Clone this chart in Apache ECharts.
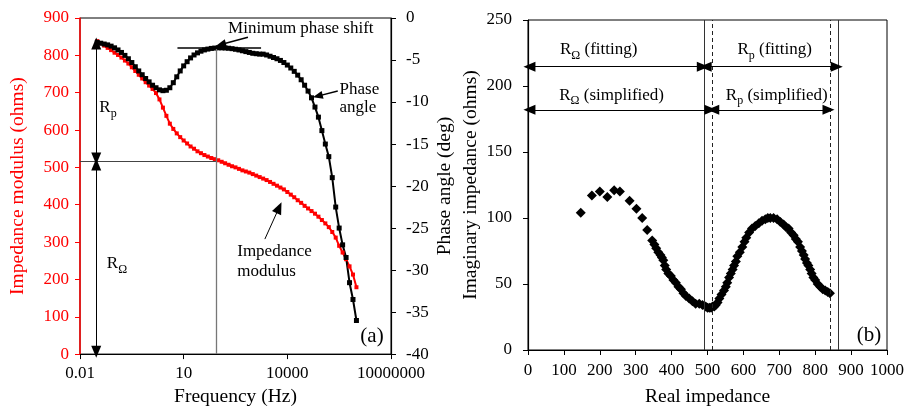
<!DOCTYPE html>
<html><head><meta charset="utf-8">
<script src="https://cdn.jsdelivr.net/npm/echarts@6/dist/echarts.min.js"></script>
<style>html,body{margin:0;padding:0;background:#fff}#c{width:907px;height:412px}</style>
</head><body><div id="c"></div>
<script>
// ---- (a) Bode data: log10(frequency / Hz), impedance modulus (ohms), phase angle (deg)
const freqExp = [-1.5,-1.4,-1.3,-1.2,-1.1,-1.0,-0.9,-0.8,-0.7,-0.6,
  -0.5,-0.4,-0.3,-0.2,-0.1,0.0,0.1,0.2,0.3,0.4,
  0.5,0.6,0.7,0.8,0.9,1.0,1.1,1.2,1.3,1.4,
  1.5,1.6,1.7,1.8,1.9,2.0,2.1,2.2,2.3,2.4,
  2.5,2.6,2.7,2.8,2.9,3.0,3.1,3.2,3.3,3.4,
  3.5,3.6,3.7,3.8,3.9,4.0,4.1,4.2,4.3,4.4,
  4.5,4.6,4.7,4.8,4.9,5.0,5.1,5.2,5.3,5.4,
  5.5,5.6,5.7,5.8,5.9,6.0];
const modulus = [838,832,826,820,814,807,801,794,786,778,
  768,758,748,738,728,719,710,699,682,660,
  638,617,603,591,581,572,564,556,550,543,
  538,533,529,525,522,519,515,511,507,503,
  500,496,492,489,486,482,478,474,470,466,
  461,456,451,446,441,434,427,420,412,405,
  397,390,383,376,368,359,350,340,327,312,
  290,272,254,235,213,179];
const phaseDeg = [-2.9,-3.0,-3.1,-3.2,-3.35,-3.55,-3.8,-4.1,-4.45,-4.85,
  -5.3,-5.8,-6.3,-6.75,-7.2,-7.6,-8.0,-8.3,-8.55,-8.65,
  -8.6,-8.3,-7.7,-7.0,-6.3,-5.7,-5.2,-4.75,-4.4,-4.15,
  -3.95,-3.8,-3.7,-3.62,-3.58,-3.55,-3.55,-3.57,-3.6,-3.65,
  -3.72,-3.8,-3.9,-4.0,-4.1,-4.2,-4.25,-4.3,-4.3,-4.4,
  -4.55,-4.7,-4.85,-5.05,-5.3,-5.6,-5.95,-6.35,-6.8,-7.35,
  -8.0,-8.7,-9.5,-10.6,-11.8,-13.4,-15.0,-16.5,-19.0,-22.5,
  -25.0,-27.0,-28.5,-31.5,-33.5,-36.0];
const freqTickLabels = {'-2':'0.01','1':'10','4':'10000','7':'10000000'};

// ---- (b) Nyquist data
const realZ = [147,178,200,221,240,256,283,302,318,332,346,352,357,363,369,373,377,381,385,391,
  398,405,412,419,426,433,440,449,458,467,477,486,495,500,505,510,514,519,
  523,528,533,539,546,551,555,560,565,570,574,579,583,590,597,603,608,616,624,633,
  643,652,661,668,675,684,694,703,712,719,726,733,740,746,752,758,763,768,772,777,
  781,786,790,795,800,807,814,821,828,835,841];
const imagZ = [104,117,120,116,121,120,113,107,100,91,83,80,77,74,72,70,68,64,61,58,
  56,53,51,48,46,43,41,39,37,35,35,34,33,32,32,32,33,33,
  34,36,39,42,45,48,51,55,58,61,64,67,71,74,78,82,85,89,92,94,
  96,98,99,100,100,100,99,97,95,93,92,89,87,84,82,78,75,72,69,66,
  64,61,58,55,53,50,48,46,45,44,43];

// ---- annotation values (data units)
const rOhmicFit = 491, rTotalFit = 864, rOhmicSimp = 512, rTotalSimp = 841;
const splitMod = 516, minPhaseExp = 1.95, minPhase = -3.55;

const F = '"Liberation Serif","Times New Roman",serif';
const RED = '#ff0000';
const chart = echarts.init(document.getElementById('c'));

const tri = [10, 12];
function arrow2(a, b, sz) { return [{coord: a, symbol: 'triangle', symbolSize: sz || tri}, {coord: b, symbol: 'triangle', symbolSize: sz || tri}]; }
function arrow1(a, b, sz) { return [{coord: a, symbol: 'none'}, {coord: b, symbol: 'triangle', symbolSize: sz || tri}]; }
function plain(a, b, style) { return [{coord: a, symbol: 'none', lineStyle: style}, {coord: b, symbol: 'none'}]; }

const axisTxt = {fontFamily: F, fontSize: 17, color: '#000'};
const nameTxt = {fontFamily: F, fontSize: 19.5, color: '#000'};
const blackLine = {show: true, onZero: false, lineStyle: {color: '#000', width: 1.2}};
const blackTick = {show: true, length: 5, lineStyle: {color: '#000'}};

const option = {
  animation: false,
  grid: [
    {left: 80, top: 18, width: 311, height: 345, show: true, borderColor: '#000', borderWidth: 1},
    {left: 528, top: 20, width: 361, height: 337, show: true, borderColor: '#000', borderWidth: 1}
  ],
  xAxis: [
    {gridIndex: 0, type: 'value', min: -2, max: 7, interval: 3,
     axisLine: blackLine, axisTick: blackTick, splitLine: {show: false},
     axisLabel: Object.assign({margin: 11, formatter: v => freqTickLabels[String(v)] || ''}, axisTxt),
     name: 'Frequency (Hz)', nameLocation: 'middle', nameGap: 28, nameTextStyle: nameTxt},
    {gridIndex: 1, type: 'value', min: 0, max: 1000, interval: 100,
     axisLine: blackLine, axisTick: blackTick, splitLine: {show: false},
     axisLabel: Object.assign({margin: 12, formatter: v => String(v)}, axisTxt),
     name: 'Real impedance', nameLocation: 'middle', nameGap: 37, nameTextStyle: nameTxt}
  ],
  yAxis: [
    {gridIndex: 0, type: 'value', min: 0, max: 900, interval: 100,
     axisLine: {show: true, onZero: false, lineStyle: {color: RED, width: 1.5}},
     axisTick: {show: true, length: 5, lineStyle: {color: RED}},
     splitLine: {show: false},
     axisLabel: {fontFamily: F, fontSize: 17, color: RED, margin: 11},
     name: 'Impedance modulus (ohms)', nameLocation: 'middle', nameGap: 52, nameRotate: 90,
     nameTextStyle: {fontFamily: F, fontSize: 19.5, color: RED}},
    {gridIndex: 0, type: 'value', position: 'right', min: -40, max: 0, interval: 5,
     axisLine: blackLine, axisTick: blackTick, splitLine: {show: false},
     axisLabel: Object.assign({margin: 15}, axisTxt),
     name: 'Phase angle (deg)', nameLocation: 'middle', nameGap: 44, nameRotate: 90, nameTextStyle: nameTxt},
    {gridIndex: 1, type: 'value', min: 0, max: 250, interval: 50,
     axisLine: blackLine, axisTick: blackTick, splitLine: {show: false},
     axisLabel: Object.assign({margin: 16}, axisTxt),
     name: 'Imaginary impedance (ohms)', nameLocation: 'middle', nameGap: 47, nameRotate: 90, nameTextStyle: nameTxt}
  ],
  series: [
    {type: 'line', xAxisIndex: 0, yAxisIndex: 0, data: freqExp.map((e, i) => [e, modulus[i]]),
     symbol: 'rect', symbolSize: 4, showSymbol: true, showAllSymbol: true,
     itemStyle: {color: RED}, lineStyle: {color: RED, width: 2}, silent: true,
     markLine: {silent: true, symbol: ['none', 'none'], label: {show: false},
       lineStyle: {color: '#000', width: 1, type: 'solid'},
       data: [
         plain([-2, splitMod], [minPhaseExp, splitMod], {color: '#444', width: 1}),
         plain([minPhaseExp, 0], [minPhaseExp, 817], {color: '#777', width: 1.3}),
         arrow2([-1.53, 832], [-1.53, 524]),
         arrow2([-1.53, 508], [-1.53, 6]),
         arrow1([3.35, 308], [3.76, 392])
       ]}},
    {type: 'line', xAxisIndex: 0, yAxisIndex: 1, data: freqExp.map((e, i) => [e, phaseDeg[i]]),
     symbol: 'rect', symbolSize: 5, showSymbol: true, showAllSymbol: true,
     itemStyle: {color: '#000'}, lineStyle: {color: '#000', width: 2}, silent: true,
     markLine: {silent: true, symbol: ['none', 'none'], label: {show: false},
       lineStyle: {color: '#000', width: 1.5, type: 'solid'},
       data: [
         plain([0.82, minPhase], [3.24, minPhase], {color: '#000', width: 1.5}),
         arrow1([2.86, -2.3], [2.08, -3.15], [8, 10]),
         arrow1([5.46, -8.7], [4.88, -9.3], [8, 10])
       ]}},
    {type: 'scatter', xAxisIndex: 1, yAxisIndex: 2, data: realZ.map((x, i) => [x, imagZ[i]]),
     symbol: 'diamond', symbolSize: 10, itemStyle: {color: '#000', opacity: 1}, silent: true,
     markLine: {silent: true, symbol: ['none', 'none'], label: {show: false},
       lineStyle: {color: '#000', width: 1, type: 'solid'},
       data: [
         {xAxis: rOhmicFit, lineStyle: {color: '#333', width: 1, type: 'solid'}},
         {xAxis: rTotalFit, lineStyle: {color: '#333', width: 1, type: 'solid'}},
         {xAxis: rOhmicSimp, lineStyle: {color: '#222', width: 1, type: [4, 3]}},
         {xAxis: rTotalSimp, lineStyle: {color: '#222', width: 1, type: [4, 3]}},
         arrow2([4, 214.6], [rOhmicFit - 4, 214.6]),
         arrow2([rOhmicFit + 4, 214.6], [rTotalFit - 4, 214.6]),
         arrow2([4, 182], [rOhmicSimp - 4, 182]),
         arrow2([rOhmicSimp + 4, 182], [rTotalSimp - 4, 182])
       ]}}
  ]
};
chart.setOption(option);

// ---- text annotations placed through the series' coordinate systems
const rich = {
  m: {fontFamily: F, fontSize: 17, fill: '#000', lineHeight: 24},
  s: {fontFamily: F, fontSize: 12, fill: '#000', lineHeight: 12, verticalAlign: 'bottom'}
};
const notes = [
  {si: 1, c: [4.39, -1.28], t: 'Minimum phase shift'},
  {si: 0, c: [-1.19, 660], t: '{m|R}{s|p}', rich: true},
  {si: 0, c: [-0.93, 243], t: '{m|R}{s|Ω}', rich: true},
  {si: 1, c: [5.51, -9.63], t: 'Phase\nangle', align: 'left', lh: 18},
  {si: 0, c: [2.55, 248], t: 'Impedance\nmodulus', align: 'left', lh: 20},
  {si: 0, c: [6.45, 47], t: '(a)', fs: 21},
  {si: 2, c: [197, 227.7], t: '{m|R}{s|Ω}{m| (fitting)}', rich: true},
  {si: 2, c: [687, 227.7], t: '{m|R}{s|p}{m| (fitting)}', rich: true},
  {si: 2, c: [233, 193], t: '{m|R}{s|Ω}{m| (simplified)}', rich: true},
  {si: 2, c: [693, 193], t: '{m|R}{s|p}{m| (simplified)}', rich: true},
  {si: 2, c: [950, 11], t: '(b)', fs: 21}
];
const graphic = notes.map(n => {
  const p = chart.convertToPixel({seriesIndex: n.si}, n.c);
  const style = {text: n.t, fill: '#000', fontFamily: F, fontSize: n.fs || 17,
    align: n.align || 'center', verticalAlign: 'middle'};
  if (n.lh) style.lineHeight = n.lh;
  if (n.rich) style.rich = rich;
  return {type: 'text', x: p[0], y: p[1], silent: true, z: 100, style: style};
});
chart.setOption({graphic: graphic});
</script>
</body></html>
